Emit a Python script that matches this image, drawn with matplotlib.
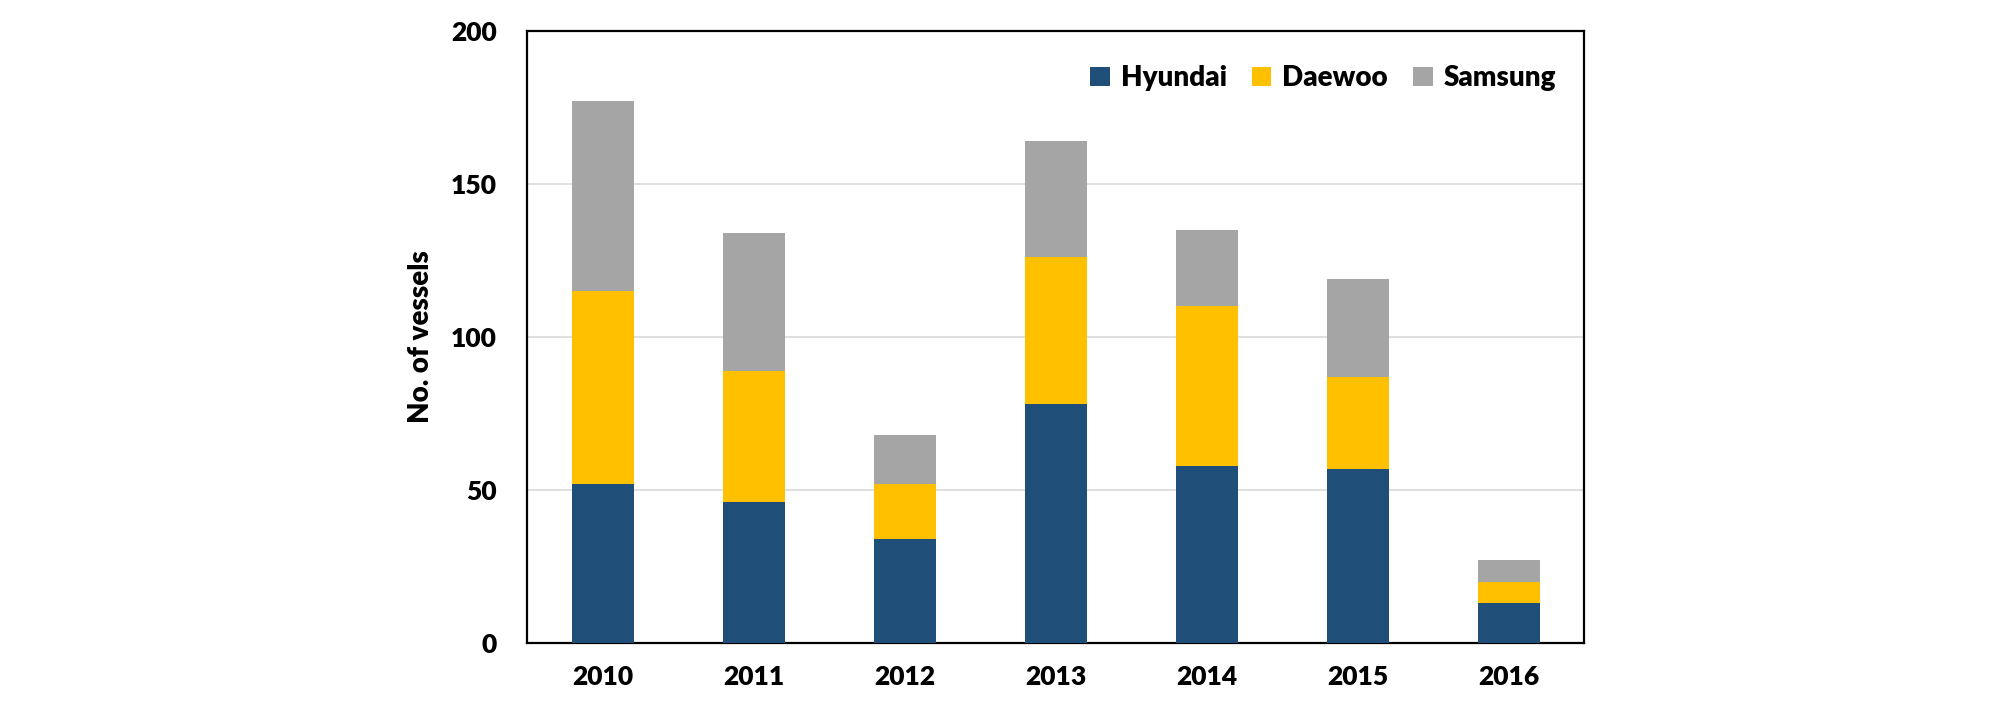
import numpy as np
import matplotlib.pyplot as plt

# --- data ---
years = ["2010", "2011", "2012", "2013", "2014", "2015", "2016"]
hyundai = [52, 46, 34, 78, 58, 57, 13]
daewoo = [63, 43, 18, 48, 52, 30, 7]
samsung = [62, 45, 16, 38, 25, 32, 7]

yticks = [0, 50, 100, 150, 200]

COLORS = {"Hyundai": "#1F4E79", "Daewoo": "#FFC000", "Samsung": "#A5A5A5"}

plt.rcParams['font.family'] = ['Lato', 'DejaVu Sans']
plt.rcParams['font.weight'] = 'heavy'


def main():
    fig = plt.figure(figsize=(20.08, 7.17), dpi=100)
    ax = fig.add_axes([0.2625, 0.103, 0.5265, 0.854])

    x = np.arange(len(years))
    w = 0.41
    h = np.array(hyundai)
    d = np.array(daewoo)
    s = np.array(samsung)

    ax.bar(x, h, w, color=COLORS["Hyundai"], label="Hyundai", zorder=3)
    ax.bar(x, d, w, bottom=h, color=COLORS["Daewoo"], label="Daewoo", zorder=3)
    ax.bar(x, s, w, bottom=h + d, color=COLORS["Samsung"], label="Samsung", zorder=3)

    ax.set_xlim(-0.5, len(years) - 0.5)
    ax.set_ylim(0, 200)
    ax.set_yticks(yticks)
    ax.set_xticks(x)
    ax.set_xticklabels(years)
    ax.yaxis.grid(True, color='#D9D9D9', linewidth=1.2, zorder=0)
    ax.tick_params(axis='both', length=0, labelsize=19)
    ax.tick_params(axis='x', pad=16)
    ax.tick_params(axis='y', pad=22)
    for sp in ax.spines.values():
        sp.set_linewidth(1.6)
        sp.set_color('black')

    ax.set_ylabel("No. of vessels", fontsize=20, fontweight='heavy', labelpad=12)

    ax.legend(loc='upper right', ncol=3, frameon=False, fontsize=20,
              handlelength=0.7, handleheight=0.7, handletextpad=0.4,
              columnspacing=0.9, bbox_to_anchor=(0.997, 0.985))

    fig.savefig("out.png", dpi=100)
    plt.close(fig)


if __name__ == "__main__":
    main()
